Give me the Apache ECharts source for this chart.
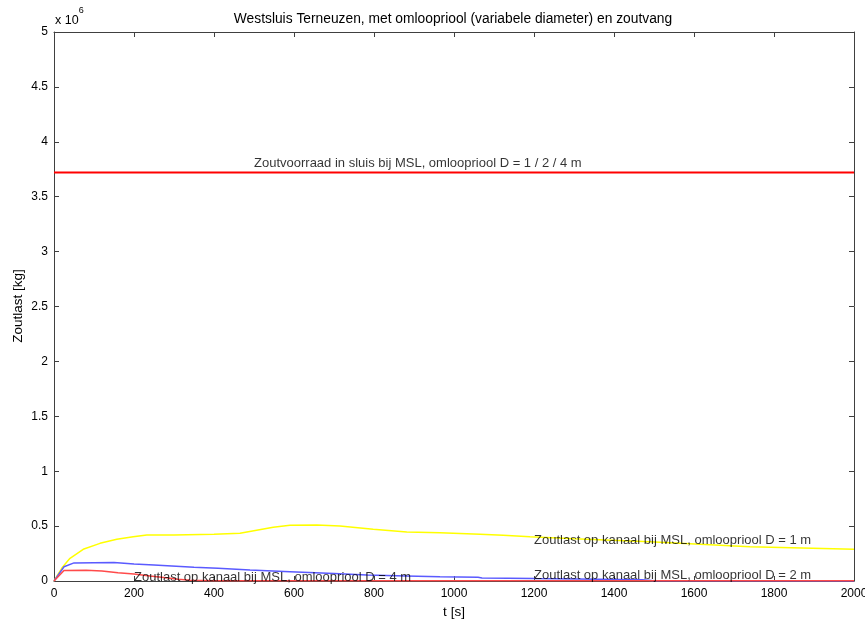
<!DOCTYPE html>
<html>
<head>
<meta charset="utf-8">
<script src="https://cdn.jsdelivr.net/npm/echarts@6/dist/echarts.min.js"></script>
<style>
  html, body { margin: 0; padding: 0; background: #fff; }
  #chart { width: 865px; height: 620px; }
</style>
</head>
<body>
<div id="chart"></div>
<script>
// Zoutlast op het kanaal (kg) als functie van de tijd (s), per omloopriooldiameter
var tD1 = [0, 20, 40, 73, 115, 157, 198, 232, 300, 400, 465, 548, 590, 657, 715, 798, 882, 965, 1065, 1123, 1190, 1300, 1490, 1740, 2000];
var zD1 = [0, 120e3, 207e3, 289e3, 343e3, 380e3, 403e3, 419e3, 420e3, 425e3, 434e3, 489e3, 507e3, 510e3, 501e3, 471e3, 446e3, 440e3, 425e3, 416e3, 403e3, 385e3, 358e3, 312e3, 289e3];

var tD2 = [0, 25, 50, 150, 200, 250, 350, 410, 490, 590, 700, 782, 880, 965, 1060, 1070, 1200, 1470, 1500, 2000];
var zD2 = [0, 130e3, 165e3, 168e3, 155e3, 146e3, 126e3, 116e3, 100e3, 85e3, 68e3, 55e3, 46e3, 39e3, 35e3, 28e3, 22e3, 12e3, 2e3, 1e3];

var tD4 = [0, 25, 80, 120, 160, 200, 240, 280, 310, 340, 400, 2000];
var zD4 = [0, 95e3, 98e3, 90e3, 76e3, 64e3, 46e3, 30e3, 15e3, 6e3, 3e3, 2e3];

// Zoutvoorraad in de sluis (gelijk voor D = 1 / 2 / 4 m)
var tStock = [0, 2000];
var zStock = [3.72e6, 3.72e6];

// Teksten in de figuur
var noteT = [500, 1200, 1200, 200];
var noteZ = [3.8e6, 0.37e6, 0.05e6, 0.037e6];
var noteText = [
  'Zoutvoorraad in sluis bij MSL, omloopriool D = 1 / 2 / 4 m',
  'Zoutlast op kanaal bij MSL, omloopriool D = 1 m',
  'Zoutlast op kanaal bij MSL, omloopriool D = 2 m',
  'Zoutlast op kanaal bij MSL, omloopriool D = 4 m'
];

var xTicks = [0, 200, 400, 600, 800, 1000, 1200, 1400, 1600, 1800, 2000];
var yTicks = [0, 0.5e6, 1e6, 1.5e6, 2e6, 2.5e6, 3e6, 3.5e6, 4e6, 4.5e6, 5e6];

function pairs(t, z) { return t.map(function (v, i) { return [v, z[i]]; }); }

var FONT = 'Liberation Sans, Arial, sans-serif';
var AXIS = '#404040';
var INK = '#000';

var chart = echarts.init(document.getElementById('chart'), null, { renderer: 'canvas' });

var tickStyle = { inside: true, length: 5, lineStyle: { color: AXIS, width: 1 } };
var lineStyle = { color: AXIS, width: 1 };

chart.setOption({
  backgroundColor: '#fff',
  animation: false,
  title: {
    text: 'Westsluis Terneuzen, met omloopriool (variabele diameter) en zoutvang',
    left: 448, top: 7, textAlign: 'center',
    textStyle: { fontFamily: FONT, fontSize: 13.8, fontWeight: 'normal', color: INK }
  },
  grid: { left: 54, right: 11, top: 32, bottom: 39, containLabel: false, outerBoundsMode: 'none' },
  xAxis: [{
    type: 'value', min: xTicks[0], max: xTicks[xTicks.length - 1], interval: 200,
    name: 't [s]', nameLocation: 'middle', nameGap: 22,
    nameTextStyle: { fontFamily: FONT, fontSize: 13.5, color: INK },
    axisLine: { show: true, onZero: false, lineStyle: lineStyle },
    axisTick: tickStyle,
    axisLabel: { fontFamily: FONT, fontSize: 12, color: INK, margin: 7, formatter: function (v) { return String(v); } },
    splitLine: { show: false }
  }, {
    type: 'value', position: 'top', min: xTicks[0], max: xTicks[xTicks.length - 1], interval: 200,
    axisLine: { show: true, onZero: false, lineStyle: lineStyle },
    axisTick: tickStyle, axisLabel: { show: false }, splitLine: { show: false }
  }],
  yAxis: [{
    type: 'value', min: yTicks[0], max: yTicks[yTicks.length - 1], interval: 0.5e6,
    axisLine: { show: true, onZero: false, lineStyle: lineStyle },
    axisTick: tickStyle,
    axisLabel: {
      fontFamily: FONT, fontSize: 12, color: INK, margin: 6,
      formatter: function (v) { return String(Math.round(v / 1e5) / 10); }
    },
    splitLine: { show: false }
  }, {
    type: 'value', position: 'right', min: yTicks[0], max: yTicks[yTicks.length - 1], interval: 0.5e6,
    axisLine: { show: true, onZero: false, lineStyle: lineStyle },
    axisTick: tickStyle, axisLabel: { show: false }, splitLine: { show: false }
  }],
  graphic: [{
    type: 'text', left: 55, top: 6,
    style: {
      text: '{a|x 10}{b|6}',
      rich: {
        a: { fontFamily: FONT, fontSize: 12.5, fill: INK, padding: [8, 0, 0, 0] },
        b: { fontFamily: FONT, fontSize: 9, fill: INK, verticalAlign: 'top' }
      }
    }
  }, {
    // y-as titel
    type: 'text', x: 18, y: 306, rotation: Math.PI / 2,
    style: {
      text: 'Zoutlast [kg]', fontFamily: FONT, fontSize: 13.5, fill: INK,
      align: 'center', verticalAlign: 'middle'
    }
  }],
  series: [
    {
      name: 'D = 1 m', type: 'line', data: pairs(tD1, zD1), showSymbol: false,
      lineStyle: { color: '#ffff00', width: 1.5 }, z: 2
    },
    {
      name: 'D = 2 m', type: 'line', data: pairs(tD2, zD2), showSymbol: false,
      lineStyle: { color: '#5a5aff', width: 1.5 }, z: 3
    },
    {
      name: 'D = 4 m', type: 'line', data: pairs(tD4, zD4), showSymbol: false,
      lineStyle: { color: '#ff4a4a', width: 1.5 }, z: 4
    },
    {
      name: 'Zoutvoorraad', type: 'line', data: pairs(tStock, zStock), showSymbol: false,
      lineStyle: { color: '#ff0000', width: 2 }, z: 4
    },
    {
      name: 'teksten', type: 'scatter', symbolSize: 0, z: 10,
      data: noteT.map(function (t, i) { return { value: [t, noteZ[i]], name: noteText[i] }; }),
      label: {
        show: true, position: 'right', distance: 0,
        formatter: function (p) { return p.name; },
        fontFamily: FONT, fontSize: 13, color: INK
      }
    }
  ]
});
</script>
</body>
</html>
